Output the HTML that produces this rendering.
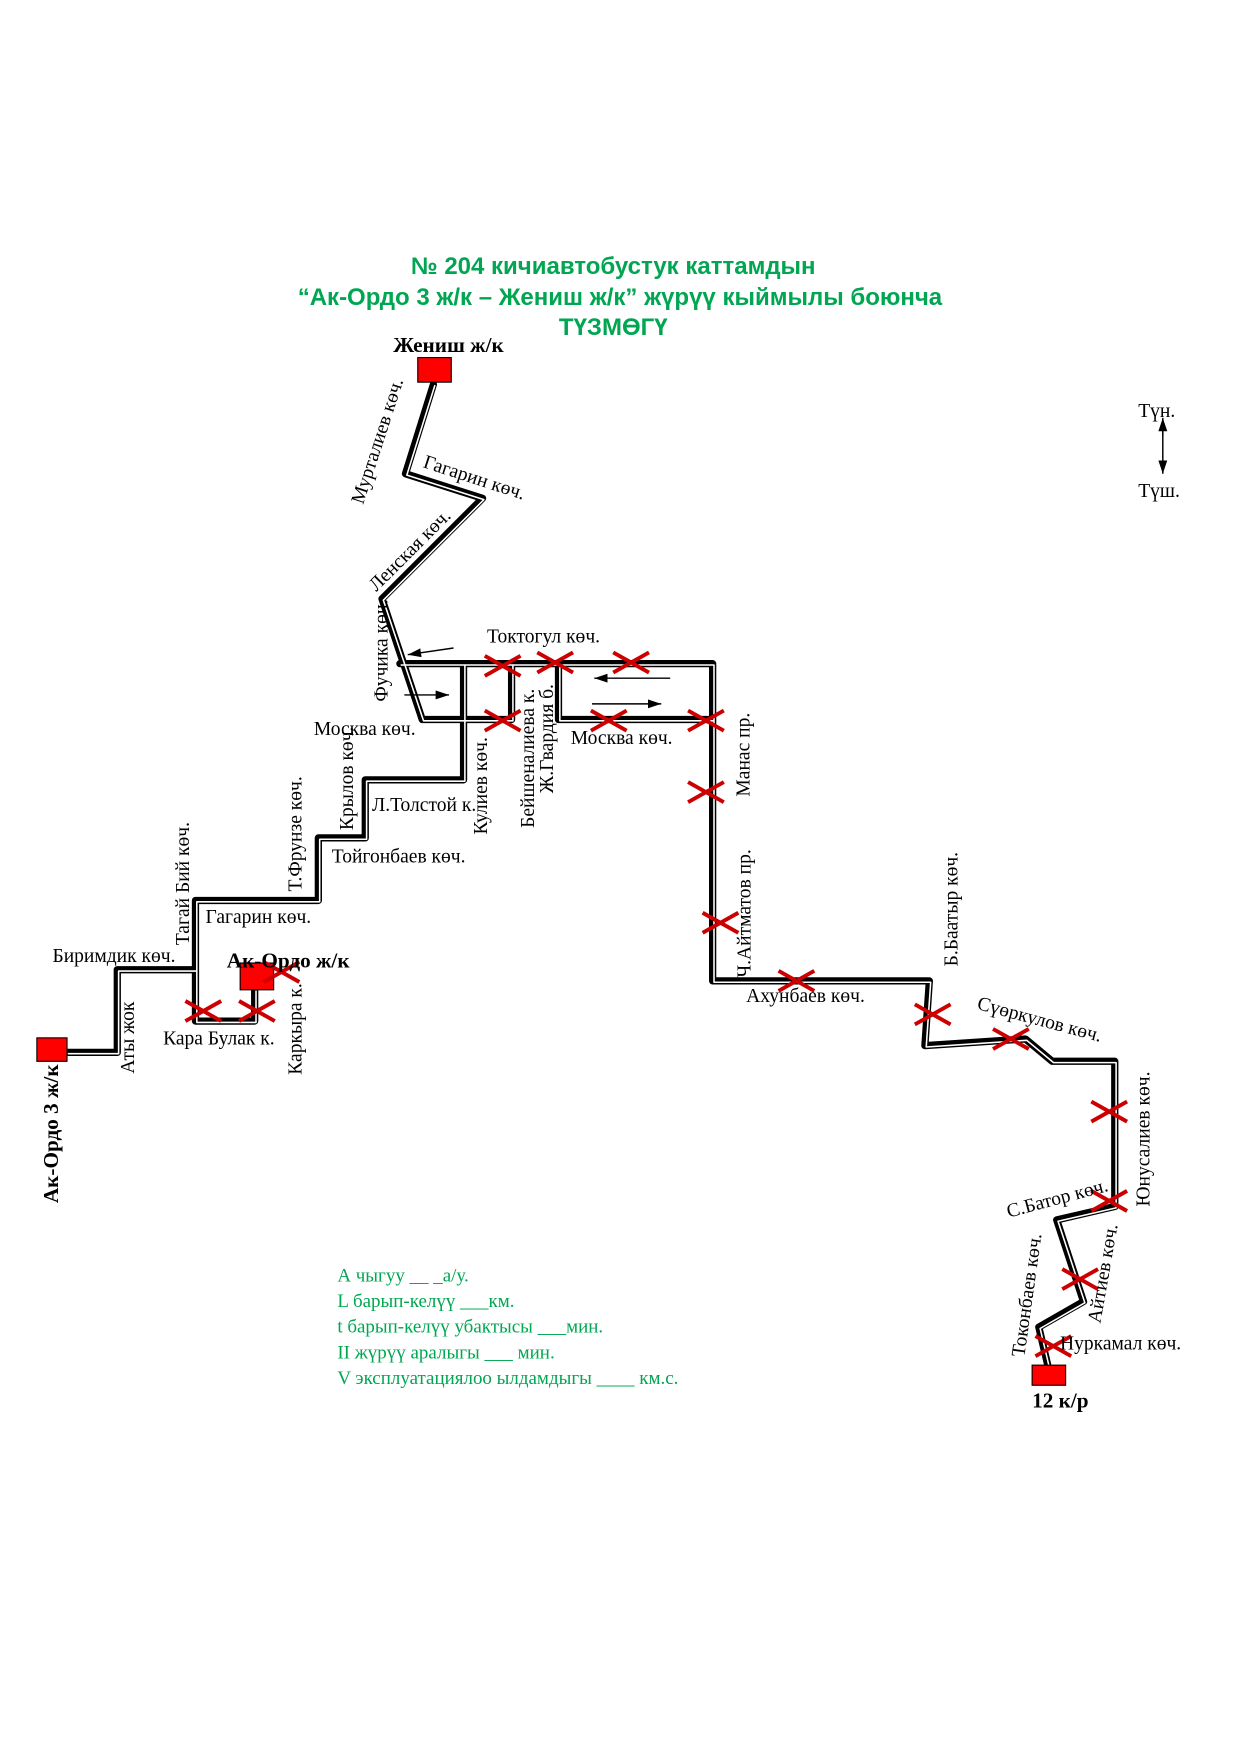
<!DOCTYPE html>
<html><head><meta charset="utf-8"><style>
html,body{margin:0;padding:0;background:#fff}
svg{display:block}
text{font-family:"Liberation Serif",serif;font-size:17.5px;fill:#000}
.t{font-family:"Liberation Sans",sans-serif;font-weight:bold;font-size:21.5px;fill:#00a651;text-anchor:middle}
.g{fill:#00a651;font-size:17px}
.b{font-weight:bold;font-size:19px}
</style></head><body>
<svg width="1241" height="1754" viewBox="0 0 1111 1570" xmlns="http://www.w3.org/2000/svg">
<defs><marker id="ah" markerWidth="12" markerHeight="8" refX="12" refY="4" orient="auto" markerUnits="userSpaceOnUse"><path d="M0,0L12,4L0,8z" fill="#000"/></marker></defs>
<text class="t" x="549" y="245">№ 204  кичиавтобустук каттамдын</text>
<text class="t" x="555" y="273">“Ак-Ордо 3 ж/к – Жениш ж/к” жүрүү кыймылы боюнча</text>
<text class="t" x="549" y="300">ТҮЗМӨГҮ</text>

<g fill="none" stroke-linejoin="round" stroke-linecap="round">
<g stroke="#000" stroke-width="6.5">
<path d="M388,344 L363,424 L432,446 L342,536 L378,644 L458,644 M358,594 L638,594 L638,878 L832,878 L828,936 L918,930 L942,950 L998,950 L998,1080 L946,1092 L970,1165 L930,1188 L938,1222 M500,594 L500,644 L638,644 M415,594 L415,698 L327,698 L327,750 L285,750 L285,806 L175,806 L175,914 L228,914 L228,886 M458,594 L458,644 M175,868 L105,868 L105,942 L60,942"/>
</g>
<g stroke="#fff" stroke-width="1.4" transform="translate(1.2,1.2)">
<path d="M388,344 L363,424 L432,446 L342,536 L378,644 L458,644 M358,594 L638,594 L638,878 L832,878 L828,936 L918,930 L942,950 L998,950 L998,1080 L946,1092 L970,1165 L930,1188 L938,1222 M500,594 L500,644 L638,644 M415,594 L415,698 L327,698 L327,750 L285,750 L285,806 L175,806 L175,914 L228,914 L228,886 M458,594 L458,644 M175,868 L105,868 L105,942 L60,942"/>
</g>
</g>

<g fill="#f00" stroke="#000" stroke-width="1">
<rect x="374" y="320" width="30" height="22"/>
<rect x="215" y="862" width="30" height="24"/>
<rect x="33" y="929" width="27" height="21"/>
<rect x="924" y="1222" width="30" height="18"/>
</g>

<g stroke="#000" stroke-width="1.3" marker-end="url(#ah)">
<line x1="406" y1="580" x2="365" y2="586"/>
<line x1="362" y1="622" x2="402" y2="622"/>
<line x1="600" y1="607" x2="532" y2="607"/>
<line x1="530" y1="630" x2="592" y2="630"/>
<line x1="1041" y1="390" x2="1041" y2="374"/>
<line x1="1041" y1="386" x2="1041" y2="424"/>
</g>

<g stroke="#c00" stroke-width="3.5" fill="none">
<path d="M-16,-9L16,9M-16,9L16,-9" transform="translate(450,596)"/>
<path d="M-16,-9L16,9M-16,9L16,-9" transform="translate(497,593)"/>
<path d="M-16,-9L16,9M-16,9L16,-9" transform="translate(565,593)"/>
<path d="M-16,-9L16,9M-16,9L16,-9" transform="translate(450,645)"/>
<path d="M-16,-9L16,9M-16,9L16,-9" transform="translate(545,645)"/>
<path d="M-16,-9L16,9M-16,9L16,-9" transform="translate(632,645)"/>
<path d="M-16,-9L16,9M-16,9L16,-9" transform="translate(632,709)"/>
<path d="M-16,-9L16,9M-16,9L16,-9" transform="translate(645,826)"/>
<path d="M-16,-9L16,9M-16,9L16,-9" transform="translate(713,878)"/>
<path d="M-16,-9L16,9M-16,9L16,-9" transform="translate(835,908)"/>
<path d="M-16,-9L16,9M-16,9L16,-9" transform="translate(905,930)"/>
<path d="M-16,-9L16,9M-16,9L16,-9" transform="translate(993,995)"/>
<path d="M-16,-9L16,9M-16,9L16,-9" transform="translate(993,1075)"/>
<path d="M-16,-9L16,9M-16,9L16,-9" transform="translate(967,1145)"/>
<path d="M-16,-9L16,9M-16,9L16,-9" transform="translate(943,1205)"/>
<path d="M-16,-9L16,9M-16,9L16,-9" transform="translate(182,905)"/>
<path d="M-16,-9L16,9M-16,9L16,-9" transform="translate(230,905)"/>
<path d="M-16,-9L16,9M-16,9L16,-9" transform="translate(252,870)"/>
</g>

<text class="b" x="352" y="315">Жениш ж/к</text>
<text class="b" x="203" y="866" font-size="17">Ак-Ордо ж/к</text>
<text class="b" x="924" y="1260" font-size="17">12 к/р</text>
<text class="b" font-size="17" transform="translate(52,1077) rotate(-90)">Ак-Ордо 3 ж/к</text>

<text transform="translate(325,452) rotate(-72)">Мурталиев көч.</text>
<text transform="translate(378,418) rotate(18)">Гагарин көч.</text>
<text transform="translate(337,530) rotate(-45)">Ленская көч.</text>
<text transform="translate(347,628) rotate(-90)">Фучика көч.</text>
<text x="436" y="575">Токтогул көч.</text>
<text x="281" y="658">Москва көч.</text>
<text x="511" y="666">Москва көч.</text>
<text transform="translate(316,743) rotate(-90)">Крылов көч.</text>
<text x="333" y="726">Л.Толстой к.</text>
<text transform="translate(436,747) rotate(-90)">Кулиев көч.</text>
<text transform="translate(478,741) rotate(-90)">Бейшеналиева к.</text>
<text transform="translate(495,710) rotate(-90)">Ж.Гвардия б.</text>
<text transform="translate(671,713) rotate(-90)">Манас пр.</text>
<text transform="translate(672,875) rotate(-90)">Ч.Айтматов пр.</text>
<text x="297" y="772">Тойгонбаев көч.</text>
<text transform="translate(270,798) rotate(-90)">Т.Фрунзе көч.</text>
<text x="184" y="826">Гагарин көч.</text>
<text transform="translate(169,846) rotate(-90)">Тагай Бий көч.</text>
<text x="47" y="861">Биримдик көч.</text>
<text transform="translate(120,961) rotate(-90)">Аты жок</text>
<text x="146" y="935">Кара Булак к.</text>
<text transform="translate(270,962) rotate(-90)">Каркыра к.</text>
<text x="668" y="897">Ахунбаев көч.</text>
<text transform="translate(857,865) rotate(-90)">Б.Баатыр көч.</text>
<text transform="translate(874,903) rotate(15)">Сүөркулов көч.</text>
<text transform="translate(1029,1080) rotate(-90)">Юнусалиев көч.</text>
<text transform="translate(903,1090) rotate(-15)">С.Батор көч.</text>
<text transform="translate(985,1185) rotate(-80)">Айтиев көч.</text>
<text transform="translate(917,1215) rotate(-82)">Токонбаев көч.</text>
<text x="949" y="1208">Нуркамал көч.</text>

<text x="1019" y="373">Түн.</text>
<text x="1019" y="445">Түш.</text>

<text class="g" x="302" y="1147">А чыгуу  __ _а/у.</text>
<text class="g" x="302" y="1170">L барып-келүү ___км.</text>
<text class="g" x="302" y="1193">t барып-келүү убактысы ___мин.</text>
<text class="g" x="302" y="1216">II жүрүү аралыгы ___ мин.</text>
<text class="g" x="302" y="1239">V эксплуатациялоо ылдамдыгы ____ км.с.</text>
</svg>
</body></html>
